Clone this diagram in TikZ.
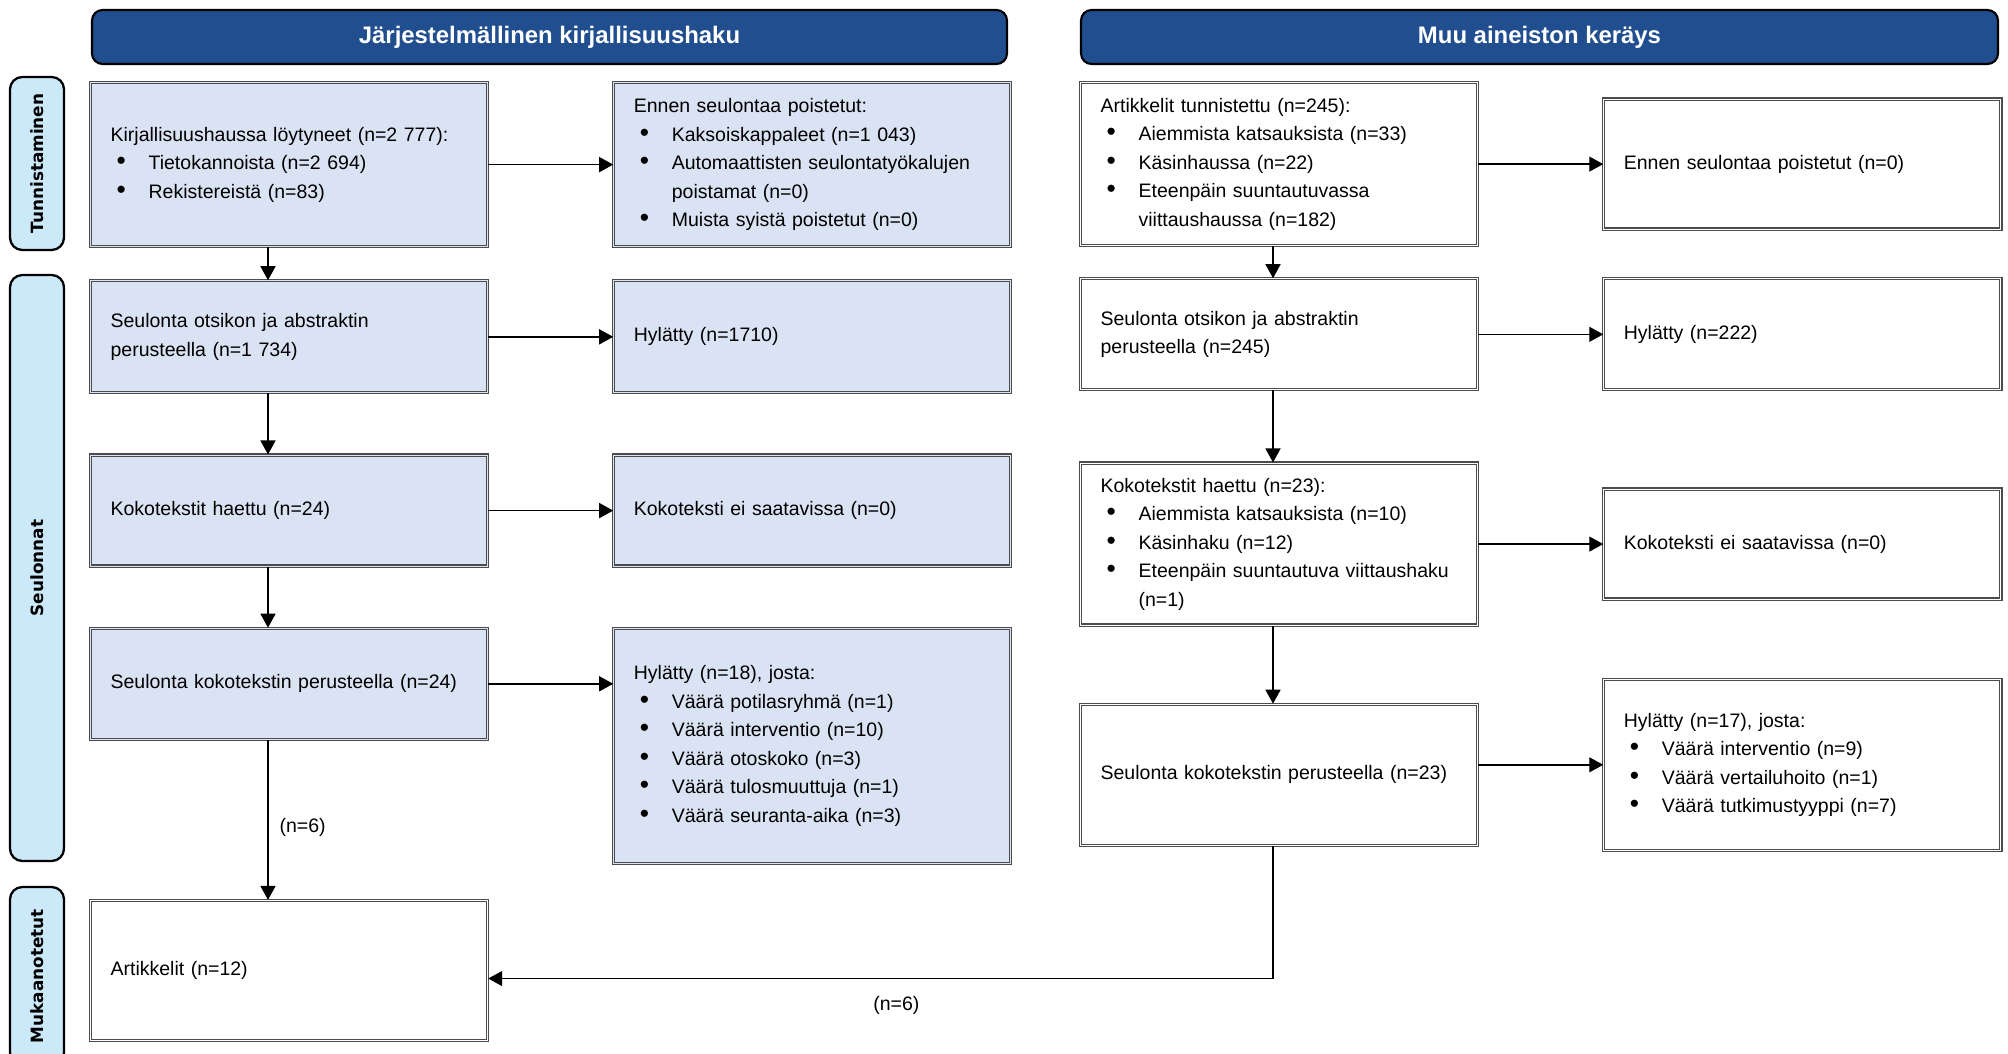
\documentclass[tikz,border=0pt]{standalone}
\usepackage{fontspec}
\setmainfont{Liberation Sans}
\newfontfamily\sidefont{DejaVu Sans}
\usepackage{xcolor}
\usetikzlibrary{arrows.meta, positioning}

\definecolor{hdrblue}{RGB}{32,78,142}
\definecolor{boxblue}{RGB}{218,227,243}
\definecolor{sideblue}{RGB}{204,233,250}

\newcommand{\bitem}{\makebox[0.76cm][l]{\hspace{0.12cm}\scalebox{1.35}{\textbullet}}}
\newcommand{\bcont}{\hspace*{0.76cm}}

\begin{document}
\begin{tikzpicture}[
    box/.style={draw=black!70, line width=0.7pt, double=boxblue, double distance=0.45pt,
                fill=boxblue, text width=7.14cm, inner xsep=0.4cm, inner ysep=0.1cm,
                align=left, font=\fontsize{11.1pt}{16.2pt}\selectfont},
    wbox/.style={box, fill=white, double=white},
    hdr/.style={draw, line width=1.2pt, rounded corners=6pt, fill=hdrblue, text=white,
                minimum width=18.3cm, minimum height=1.08cm,
                font=\bfseries\fontsize{13.6pt}{16pt}\selectfont},
    side/.style={draw, line width=1.3pt, rounded corners=7pt, fill=sideblue, rotate=90,
                 minimum height=1.08cm, font=\sidefont\bfseries\fontsize{9.6pt}{12pt}\selectfont},
    arr/.style={-{Triangle[length=0.28cm, width=0.3cm]}, line width=0.8pt},
    lab/.style={font=\fontsize{11.1pt}{13pt}\selectfont}
]
    \useasboundingbox (0,0) rectangle (40.16,-21.08);
    \clip (0,0) rectangle (40.16,-21.08);

    % headers and phase labels
    \node[hdr] (hl) at (10.99,-0.74) {Järjestelmällinen kirjallisuushaku};
    \node[hdr, minimum width=18.34cm] (hr) at (30.79,-0.74) {Muu aineiston keräys};

    \node[side, minimum width=3.46cm]  (stun) at (0.74,-3.27)  {Tunnistaminen};
    \node[side, minimum width=11.72cm] (sseu) at (0.74,-11.36) {Seulonnat};
    \node[side, minimum width=3.56cm]  (smuk) at (0.74,-19.52) {Mukaanotetut};

    % systematic search
    \node[box, minimum height=3.28cm, anchor=north west] (lid) at (1.8,-1.64)
        {Kirjallisuushaussa löytyneet (n=2 777):\\ \bitem Tietokannoista (n=2 694)\\ \bitem Rekistereistä (n=83)};
    \node[box, minimum height=3.28cm, right=2.5cm of lid] (lrm)
        {Ennen seulontaa poistetut:\\ \bitem Kaksoiskappaleet (n=1 043)\\ \bitem Automaattisten seulontatyökalujen\\ \bcont poistamat (n=0)\\ \bitem Muista syistä poistetut (n=0)};
    \node[box, minimum height=2.24cm, below=0.66cm of lid] (lsc) {Seulonta otsikon ja abstraktin\\ perusteella (n=1 734)};
    \node[box, minimum height=2.24cm, right=2.5cm of lsc] (lhy) {Hylätty (n=1710)};
    \node[box, minimum height=2.22cm, below=1.22cm of lsc] (lft) {Kokotekstit haettu (n=24)};
    \node[box, minimum height=2.22cm, right=2.5cm of lft] (lna) {Kokoteksti ei saatavissa (n=0)};
    \node[box, minimum height=2.22cm, below=1.22cm of lft] (lfs) {Seulonta kokotekstin perusteella (n=24)};
    \node[box, minimum height=4.7cm, right=2.5cm of lfs.north east, anchor=north west] (lex)
        {Hylätty (n=18), josta:\\ \bitem Väärä potilasryhmä (n=1)\\ \bitem Väärä interventio (n=10)\\ \bitem Väärä otoskoko (n=3)\\ \bitem Väärä tulosmuuttuja (n=1)\\ \bitem Väärä seuranta-aika (n=3)};
    \node[wbox, minimum height=2.8cm, below=3.2cm of lfs] (art) {Artikkelit (n=12)};

    % other sources
    \node[wbox, minimum height=3.26cm, anchor=north west] (rid) at (21.6,-1.64)
        {Artikkelit tunnistettu (n=245):\\ \bitem Aiemmista katsauksista (n=33)\\ \bitem Käsinhaussa (n=22)\\ \bitem Eteenpäin suuntautuvassa\\ \bcont viittaushaussa (n=182)};
    \node[wbox, minimum height=2.6cm, right=2.5cm of rid] (rrm) {Ennen seulontaa poistetut (n=0)};
    \node[wbox, minimum height=2.22cm, below=0.64cm of rid] (rsc) {Seulonta otsikon ja abstraktin\\ perusteella (n=245)};
    \node[wbox, minimum height=2.22cm, right=2.5cm of rsc] (rhy) {Hylätty (n=222)};
    \node[wbox, minimum height=3.24cm, below=1.44cm of rsc] (rft)
        {Kokotekstit haettu (n=23):\\ \bitem Aiemmista katsauksista (n=10)\\ \bitem Käsinhaku (n=12)\\ \bitem Eteenpäin suuntautuva viittaushaku\\ \bcont (n=1)};
    \node[wbox, minimum height=2.2cm, right=2.5cm of rft] (rna) {Kokoteksti ei saatavissa (n=0)};
    \node[wbox, minimum height=2.82cm, below=1.56cm of rft] (rfs) {Seulonta kokotekstin perusteella (n=23)};
    \node[wbox, minimum height=3.42cm, right=2.5cm of rfs, yshift=0.2cm] (rex)
        {Hylätty (n=17), josta:\\ \bitem Väärä interventio (n=9)\\ \bitem Väärä vertailuhoito (n=1)\\ \bitem Väärä tutkimustyyppi (n=7)};

    % connectors
    \coordinate (lx) at (5.36,0);
    \coordinate (rx) at (25.46,0);
    \draw[arr] (lid.south -| lx) -- (lsc.north -| lx);
    \draw[arr] (lsc.south -| lx) -- (lft.north -| lx);
    \draw[arr] (lft.south -| lx) -- (lfs.north -| lx);
    \draw[arr] (lfs.south -| lx) -- node[lab, right=0.1cm, pos=0.55] {(n=6)} (art.north -| lx);
    \draw[arr] (lid.east) -- (lid.east -| lrm.west);
    \draw[arr] (lsc) -- (lhy);
    \draw[arr] (lft) -- (lna);
    \draw[arr] (lfs.east) -- (lfs.east -| lex.west);

    \draw[arr] (rid.south -| rx) -- (rsc.north -| rx);
    \draw[arr] (rsc.south -| rx) -- (rft.north -| rx);
    \draw[arr] (rft.south -| rx) -- (rfs.north -| rx);
    \draw[arr] (rid.east) -- (rid.east -| rrm.west);
    \draw[arr] (rsc) -- (rhy);
    \draw[arr] (rft.east) -- (rft.east -| rna.west);
    \draw[arr] (rex.west -| rfs.east) -- (rex.west);
    \draw[arr] (rfs.south -| rx) |- node[lab, pos=0.74, below=0.22cm] {(n=6)} ([yshift=-0.16cm]art.east);
\end{tikzpicture}
\end{document}
